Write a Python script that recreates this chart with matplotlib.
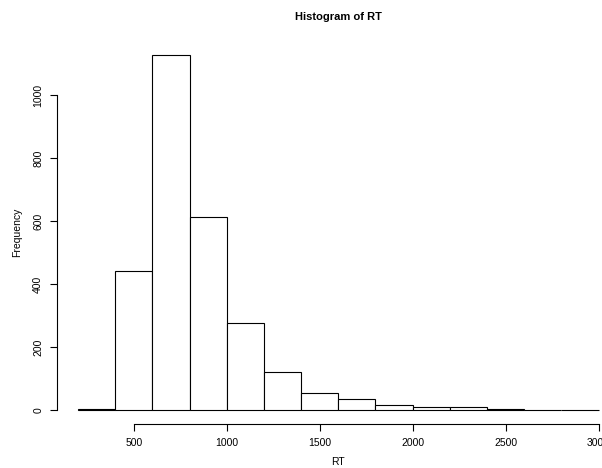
import numpy as np
import matplotlib
matplotlib.use("Agg")
import matplotlib.pyplot as plt

plt.rcParams['font.family'] = ['Liberation Sans', 'DejaVu Sans']

# histogram of RT: bin edges and counts
bin_edges = [200, 400, 600, 800, 1000, 1200, 1400, 1600, 1800, 2000,
             2200, 2400, 2600, 2800, 3000]
counts = [3, 441, 1128, 613, 276, 121, 53, 34, 15, 11, 9, 2, 0, 1]
xticks = [500, 1000, 1500, 2000, 2500, 3000]
yticks = [0, 200, 400, 600, 800, 1000]

fig = plt.figure(figsize=(6.02, 4.68), dpi=100)
# plot region extends past the right edge (image is cropped like the original)
ax = fig.add_axes([0.0949, 0.0936, 0.934, 0.820])

lefts = np.array(bin_edges[:-1])
widths = np.diff(bin_edges)
ax.bar(lefts, counts, width=widths, align="edge", color="white",
       edgecolor="black", linewidth=0.8)

# R style axis range: 4% padding
xr = bin_edges[-1] - bin_edges[0]
ax.set_xlim(bin_edges[0] - 0.04 * xr, bin_edges[-1] + 0.04 * xr)
ymax = max(counts)
ax.set_ylim(-0.04 * ymax, ymax * 1.04)

for s in ["top", "right"]:
    ax.spines[s].set_visible(False)
ax.spines["left"].set_bounds(yticks[0], yticks[-1])
ax.spines["bottom"].set_bounds(xticks[0], xticks[-1])
for s in ["left", "bottom"]:
    ax.spines[s].set_linewidth(0.8)

ax.set_xticks(xticks)
ax.set_yticks(yticks)
ax.set_yticklabels([str(v) for v in yticks], rotation=90, va="center")
ax.tick_params(axis="both", length=5, width=0.8, labelsize=7.5, pad=5)

ax.set_xlabel("RT", fontsize=7.5)
ax.set_ylabel("Frequency", fontsize=7.5)
ax.xaxis.set_label_coords(0.5, -0.0985)
ax.xaxis.label.set_va("center")
ax.yaxis.set_label_coords(-0.0713, 0.5)
ax.yaxis.label.set_va("center")
fig.text(0.5615, 0.963, "Histogram of RT", ha="center", va="center",
         fontsize=8, fontweight="bold")

fig.savefig("out.png", dpi=100)
